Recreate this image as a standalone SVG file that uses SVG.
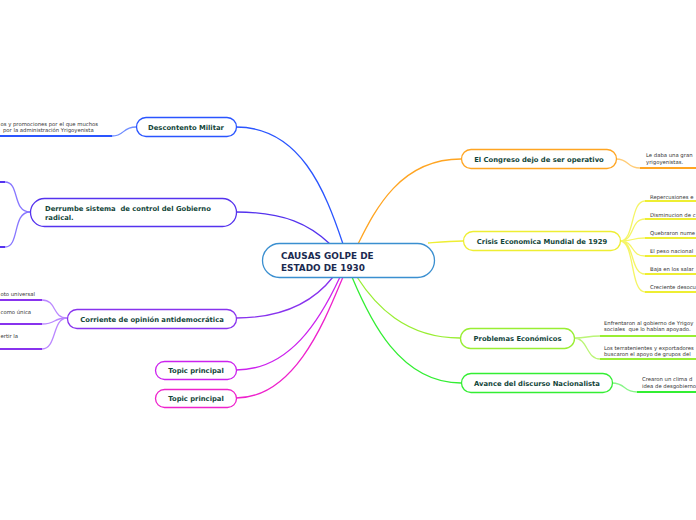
<svg xmlns="http://www.w3.org/2000/svg" width="696" height="520" viewBox="0 0 696 520">
<style>
.node{fill:#fff;stroke-width:1.3}
.t{font-family:"DejaVu Sans",Verdana,sans-serif;font-weight:bold;font-size:6.8px;fill:#13463a;white-space:pre}
.c{font-family:"DejaVu Sans",Verdana,sans-serif;font-weight:bold;font-size:8.9px;fill:#1b2a50}
.s{font-family:"DejaVu Sans",Verdana,sans-serif;font-size:5.3px;fill:#333;white-space:pre}
.ln{fill:none;stroke-width:1.3}
.ul{fill:none;stroke-width:2}
</style>
<rect width="696" height="520" fill="#fff"/>
<g id="connectors">
  <path class="ln" stroke="#2a55ff" d="M236,127 C300,127 325,190 343,244"/>
  <path class="ln" stroke="#5533ee" d="M236,212 C285,212 310,225 330,244"/>
  <path class="ln" stroke="#8833ee" d="M236,318 C285,318 315,300 333,277"/>
  <path class="ln" stroke="#cc22ee" d="M236,370 C290,370 320,320 340,277"/>
  <path class="ln" stroke="#ee22cc" d="M236,398 C295,398 325,320 343,277"/>
  <path class="ln" stroke="#ffa522" d="M461,159 C400,159 375,210 358,244"/>
  <path class="ln" stroke="#eeee33" d="M463,241 C450,241 440,242 428,243"/>
  <path class="ln" stroke="#99ee33" d="M460,338 C405,338 375,305 357,277"/>
  <path class="ln" stroke="#33ee33" d="M461,383 C400,383 370,320 352,277"/>
  <path class="ln" stroke="#6e8cff" d="M136,127 C122,127 125,136 112,136"/>
  <path class="ul" stroke="#2a55ff" d="M0,136 H112"/>
  <path class="ln" stroke="#8877ff" d="M30,212 C12,212 20,182 5,182"/>
  <path class="ln" stroke="#8877ff" d="M30,212 C12,212 20,247 5,247"/>
  <path class="ul" stroke="#5533ee" d="M0,182 H5 M0,247 H5"/>
  <path class="ln" stroke="#bb88ff" d="M67,318 C52,318 57,300 42,300"/>
  <path class="ln" stroke="#bb88ff" d="M67,318 C52,318 57,324 42,324"/>
  <path class="ln" stroke="#bb88ff" d="M67,318 C52,318 57,349 42,349"/>
  <path class="ul" stroke="#8833ee" d="M0,300 H42 M0,324 H42 M0,349 H42"/>
  <path class="ln" stroke="#ffcc77" d="M616,159 C630,159 626,168 640,168"/>
  <path class="ul" stroke="#ffa522" d="M640,168 H696"/>
  <path class="ln" stroke="#f5f566" d="M620,241 C635,241 630,201 645,201 M620,241 C635,241 630,219 645,219 M620,241 C635,241 630,238 645,238 M620,241 C635,241 630,256 645,256 M620,241 C635,241 630,274 645,274 M620,241 C635,241 630,292 645,292"/>
  <path class="ul" stroke="#eeee33" d="M645,201 H696 M645,219 H696 M645,238 H696 M645,256 H696 M645,274 H696 M645,292 H696"/>
  <path class="ln" stroke="#bbf577" d="M574,338 C588,338 586,336 600,336 M574,338 C588,338 586,359 600,359"/>
  <path class="ul" stroke="#99ee33" d="M600,336 H696 M600,359 H696"/>
  <path class="ln" stroke="#88f588" d="M612,383 C626,383 623,392 637,392"/>
  <path class="ul" stroke="#33ee33" d="M637,392 H696"/>
</g>
<g id="center">
  <rect class="node" x="262.5" y="243.5" width="172" height="34" rx="17" stroke="#3a8fd0"/>
  <text class="c" x="281" y="259">CAUSAS GOLPE DE</text>
  <text class="c" x="281" y="271">ESTADO DE 1930</text>
</g>
<g id="descontento">
  <rect class="node" x="136.5" y="117.5" width="100" height="19" rx="9.5" stroke="#2a55ff"/>
  <text class="t" x="186" y="130" text-anchor="middle">Descontento Militar</text>
  <text class="s" x="0.5" y="125.5">os y promociones por el que muchos</text>
  <text class="s" x="3" y="131.5">por la administración Yrigoyenista</text>
</g>
<g id="derrumbe">
  <rect class="node" x="30.5" y="198.5" width="206" height="28" rx="14" stroke="#5533ee"/>
  <text class="t" x="45" y="211">Derrumbe sistema  de control del Gobierno</text>
  <text class="t" x="45" y="220">radical.</text>
</g>
<g id="corriente">
  <rect class="node" x="67.5" y="309.5" width="169" height="19" rx="9.5" stroke="#8833ee"/>
  <text class="t" x="152" y="321.5" text-anchor="middle">Corriente de opinión antidemocrática</text>
  <text class="s" x="0.5" y="296">oto universal</text>
  <text class="s" x="0.5" y="314">como única</text>
  <text class="s" x="0.5" y="338">ertir la</text>
</g>
<g id="topic1">
  <rect class="node" x="155.5" y="361.5" width="81" height="18" rx="9" stroke="#cc22ee"/>
  <text class="t" x="196" y="373" text-anchor="middle">Topic principal</text>
</g>
<g id="topic2">
  <rect class="node" x="155.5" y="389.5" width="81" height="18" rx="9" stroke="#ee22cc"/>
  <text class="t" x="196" y="401" text-anchor="middle">Topic principal</text>
</g>
<g id="congreso">
  <rect class="node" x="461.5" y="149.5" width="155" height="19" rx="9.5" stroke="#ffa522"/>
  <text class="t" x="539" y="161.5" text-anchor="middle">El Congreso dejo de ser operativo</text>
  <text class="s" x="646" y="157">Le daba una gran</text>
  <text class="s" x="646" y="164">yrigoyenistas.</text>
</g>
<g id="crisis">
  <rect class="node" x="463.5" y="231.5" width="157" height="19" rx="9.5" stroke="#eeee33"/>
  <text class="t" x="542" y="243.5" text-anchor="middle">Crisis Economica Mundial de 1929</text>
  <text class="s" x="650" y="198.5">Repercusiones e</text>
  <text class="s" x="650" y="216.5">Disminucion de c</text>
  <text class="s" x="650" y="235">Quebraron nume</text>
  <text class="s" x="650" y="253">El peso nacional</text>
  <text class="s" x="650" y="271">Baja en los salar</text>
  <text class="s" x="650" y="289">Creciente desocu</text>
</g>
<g id="problemas">
  <rect class="node" x="460.5" y="328.5" width="114" height="20" rx="10" stroke="#99ee33"/>
  <text class="t" x="517.5" y="341" text-anchor="middle">Problemas Económicos</text>
  <text class="s" x="604" y="324.5">Enfrentaron al gobierno de Yrigoy</text>
  <text class="s" x="604" y="331">sociales  que lo habían apoyado.</text>
  <text class="s" x="604" y="349.5">Los terratenientes y exportadores</text>
  <text class="s" x="604" y="356">buscaron el apoyo de grupos del</text>
</g>
<g id="avance">
  <rect class="node" x="461.5" y="373.5" width="151" height="19" rx="9.5" stroke="#33ee33"/>
  <text class="t" x="537" y="385.5" text-anchor="middle">Avance del discurso Nacionalista</text>
  <text class="s" x="642" y="381">Crearon un clima d</text>
  <text class="s" x="642" y="388">idea de desgobierno</text>
</g>
</svg>
